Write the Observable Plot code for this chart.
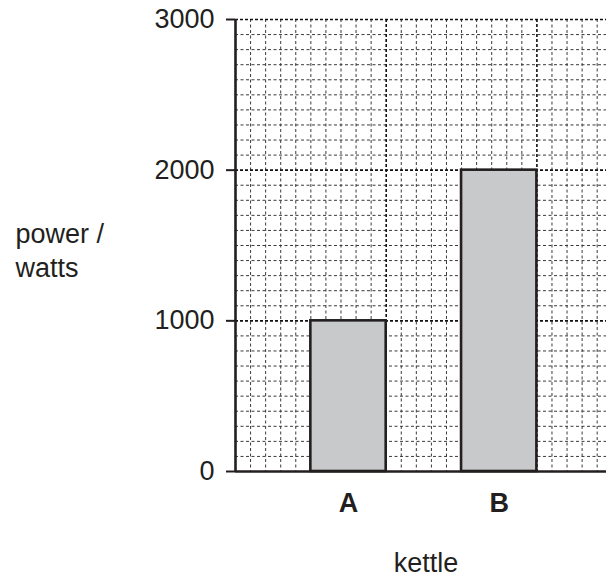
<!DOCTYPE html>
<html><head><meta charset="utf-8">
<script src="https://cdn.jsdelivr.net/npm/d3@7"></script>
<script src="https://cdn.jsdelivr.net/npm/@observablehq/plot@0.6"></script>
<style>body{margin:0;background:#fff} svg{display:block}</style>
</head><body><div id="chart"></div>
<script>
// ---- data ----
const kettles = ["A", "B"];
const power = [1000, 2000];
const yTicks = [0, 1000, 2000, 3000];
const yLabel = "power /\nwatts";
const xLabel = "kettle";

// ---- layout on squared grid paper: one square = 100 W tall; bars 5 squares wide, 10 squares apart ----
const data = kettles.map((k, i) => ({kettle: k, power: power[i], i}));
const barW = 5, step = 10;
const left = d => barW + step * d.i;
const centre = i => barW + barW / 2 + step * i;

const minorV = d3.range(1, 25).filter(v => v % 10 !== 0);
const majorV = d3.range(10, 25, 10);
const minorH = d3.range(100, 3000, 100).filter(v => v % 1000 !== 0);
const majorH = d3.range(1000, 3001, 1000);

const ink = "#231f20";

const chart = Plot.plot({
  width: 606,
  height: 577,
  marginLeft: 235,
  marginRight: 0,
  marginTop: 19,
  marginBottom: 106,
  style: {fontFamily: "'Liberation Sans', Arial, sans-serif", fontSize: "27px", color: ink, background: "#fff"},
  x: {domain: [0, 371 / 15.07], axis: null},
  y: {domain: [0, 3000], axis: null},
  marks: [
    Plot.ruleX(minorV, {stroke: "#3a3a3a", strokeWidth: 1, strokeDasharray: "3,2.5"}),
    Plot.ruleY(minorH, {stroke: "#3a3a3a", strokeWidth: 1, strokeDasharray: "3,2.5"}),
    Plot.ruleX(majorV, {stroke: "#111", strokeWidth: 1.6, strokeDasharray: "3,2"}),
    Plot.ruleY(majorH, {stroke: "#111", strokeWidth: 1.6, strokeDasharray: "3,2"}),
    Plot.rectY(data, {x1: left, x2: d => left(d) + barW, y: "power", fill: "#c8c9cb", stroke: ink, strokeWidth: 2.6}),
    Plot.ruleY([0], {stroke: ink, strokeWidth: 2.6}),
    Plot.ruleX([0], {stroke: ink, strokeWidth: 2.6}),
    Plot.axisY({ticks: yTicks, tickSize: 9, tickPadding: 12, strokeWidth: 2, stroke: ink, fill: ink, label: null, tickFormat: d => String(d)}),
    Plot.axisX({ticks: kettles.map((k, i) => centre(i)), tickFormat: (v, i) => kettles[i], tickSize: 0, tickPadding: 21, fontWeight: "bold", fill: ink, label: null}),
    Plot.text([xLabel], {text: d => d, frameAnchor: "bottom", dx: 5, dy: 100, lineAnchor: "bottom", fill: ink}),
    Plot.text([yLabel], {text: d => d, frameAnchor: "left", dx: -220, dy: 4, textAnchor: "start", lineAnchor: "middle", lineHeight: 1.25, fill: ink})
  ]
});
document.getElementById("chart").append(chart);
</script>
</body></html>
